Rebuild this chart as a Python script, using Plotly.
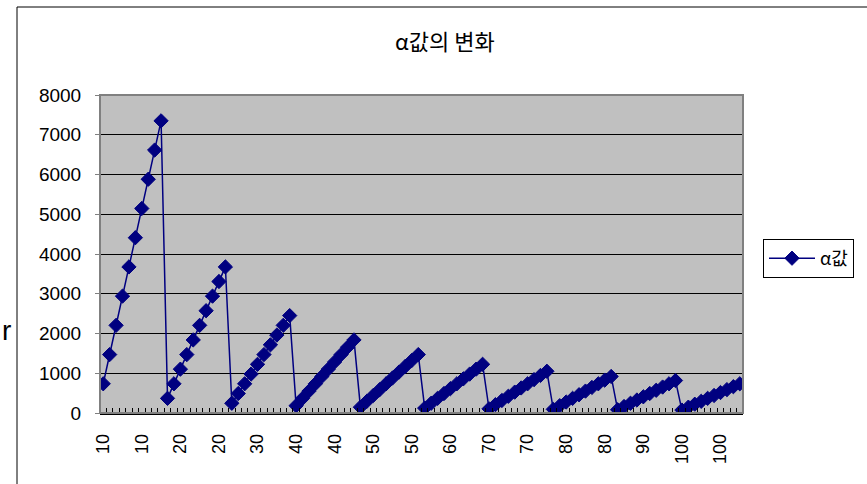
import plotly.graph_objects as go

# α값 by row (ten groups of ten rows)
alpha_values = [
    735, 1470, 2205, 2940, 3675, 4410, 5145, 5880, 6615, 7350,
    368, 735, 1103, 1470, 1838, 2205, 2573, 2940, 3308, 3675,
    245, 490, 735, 980, 1225, 1470, 1715, 1960, 2205, 2450,
    184, 368, 551, 735, 919, 1103, 1286, 1470, 1654, 1838,
    147, 294, 441, 588, 735, 882, 1029, 1176, 1323, 1470,
    123, 245, 368, 490, 613, 735, 858, 980, 1103, 1225,
    105, 210, 315, 420, 525, 630, 735, 840, 945, 1050,
    92, 184, 276, 368, 459, 551, 643, 735, 827, 919,
    82, 163, 245, 327, 408, 490, 572, 653, 735, 817,
    74, 147, 221, 294, 368, 441, 515, 588, 662, 735,
]

# category label of each row
categories = [
    10, 10, 10, 10, 10, 10, 10, 10, 10, 10,
    20, 20, 20, 20, 20, 20, 20, 20, 20, 20,
    30, 30, 30, 30, 30, 30, 30, 30, 30, 30,
    40, 40, 40, 40, 40, 40, 40, 40, 40, 40,
    50, 50, 50, 50, 50, 50, 50, 50, 50, 50,
    60, 60, 60, 60, 60, 60, 60, 60, 60, 60,
    70, 70, 70, 70, 70, 70, 70, 70, 70, 70,
    80, 80, 80, 80, 80, 80, 80, 80, 80, 80,
    90, 90, 90, 90, 90, 90, 90, 90, 90, 90,
    100, 100, 100, 100, 100, 100, 100, 100, 100, 100,
]

series_name = "α값"
chart_title = "α값의 변화"
y_ticks = [0, 1000, 2000, 3000, 4000, 5000, 6000, 7000, 8000]
label_every = 6

W, H = 867, 484
L, R, T, B = 100, 124, 95, 71
PW, PH = W - L - R, H - T - B


def px_x(p):
    return (p - L) / PW


def px_y(p):
    return (H - B - p) / PH


idx = list(range(len(alpha_values)))
tick_idx = idx[::label_every]
tick_txt = [str(categories[i]) for i in tick_idx]

NAVY = "#000080"
NUM_FONT = "Liberation Sans, Arial, sans-serif"
KR_FONT = "Noto Sans CJK KR, sans-serif"

fig = go.Figure()
fig.add_trace(go.Scatter(
    x=idx, y=alpha_values, mode="lines+markers", name=series_name,
    line=dict(color=NAVY, width=1.5),
    marker=dict(symbol="diamond", size=11, color=NAVY,
                line=dict(color=NAVY, width=1)),
))

fig.update_layout(
    width=W, height=H,
    margin=dict(l=L, r=R, t=T, b=B, pad=0),
    paper_bgcolor="white",
    plot_bgcolor="#C0C0C0",
    showlegend=True,
    legend=dict(
        x=px_x(763), y=px_y(239), xanchor="left", yanchor="top",
        bordercolor="black", borderwidth=1, bgcolor="white",
        font=dict(family=KR_FONT, size=18, color="black"),
        itemwidth=46, tracegroupgap=0,
    ),
    xaxis=dict(
        range=[-0.5, len(alpha_values) - 0.5],
        tickmode="array", tickvals=tick_idx, ticktext=tick_txt,
        tickangle=-90, ticks="",
        tickfont=dict(family=NUM_FONT, size=18, color="black"),
        ticklabelstandoff=12,
        showgrid=False, zeroline=False,
        showline=True, linecolor="black", linewidth=1.5,
        minor=dict(tickmode="linear", tick0=-0.5, dtick=1,
                   ticks="inside", ticklen=5, tickcolor="black",
                   tickwidth=1, showgrid=False),
        fixedrange=True,
    ),
    yaxis=dict(
        range=[0, 8000], tickmode="array", tickvals=y_ticks,
        ticks="outside", ticklen=4, tickcolor="#808080",
        tickfont=dict(family=NUM_FONT, size=19, color="black"),
        ticklabelstandoff=10,
        showgrid=True, gridcolor="black", gridwidth=1,
        zeroline=False, showline=False,
        fixedrange=True,
    ),
    shapes=[
        # plot area frame
        dict(type="rect", xref="paper", yref="paper", x0=0, y0=0, x1=1, y1=1,
             line=dict(color="#808080", width=2), layer="above"),
        # outer chart frame
        dict(type="rect", xref="paper", yref="paper",
             x0=px_x(17), y0=px_y(520), x1=px_x(900), y1=px_y(7),
             line=dict(color="black", width=1), layer="below"),
    ],
    annotations=[
        dict(text=chart_title, xref="paper", yref="paper",
             x=px_x(445), y=px_y(40), xanchor="center", yanchor="middle",
             showarrow=False, font=dict(family=KR_FONT, size=22, color="black")),
        dict(text="r", xref="paper", yref="paper",
             x=px_x(0), y=px_y(330), xanchor="left", yanchor="middle",
             showarrow=False, font=dict(family=NUM_FONT, size=28, color="black")),
    ],
)

fig.write_html("out.html")
